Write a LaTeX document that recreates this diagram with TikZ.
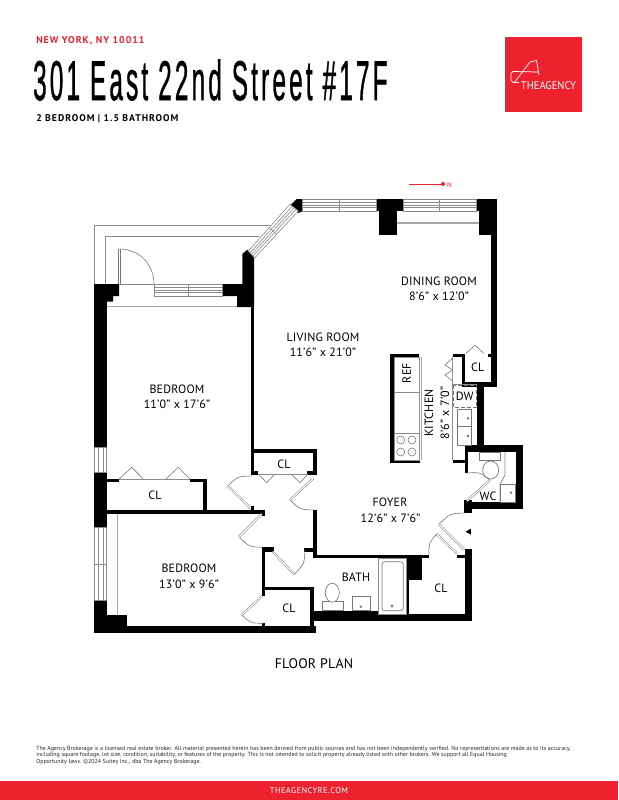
\documentclass[tikz,border=0pt]{standalone}
\usepackage{fontspec}
\setmainfont[LetterSpace=1.5]{PT Sans}
\newfontfamily\titlefont[LetterSpace=13,FakeBold=1.2]{Liberation Sans}
\newfontfamily\spaced[LetterSpace=5]{PT Sans}
\newfontfamily\spacedb[LetterSpace=10,BoldFont={PT Sans Bold}]{PT Sans}
\newfontfamily\spacedc[LetterSpace=10,BoldFont={PT Sans Bold}]{PT Sans}
\newfontfamily\plain{PT Sans}
\usetikzlibrary{calc}
\definecolor{agred}{HTML}{EE222E}
\definecolor{fix}{HTML}{777777}
\definecolor{winc}{HTML}{8A8A8A}
\tikzset{
  wall/.style={fill=black},
  fixture/.style={draw=fix,line width=0.5pt},
  wingrey/.style={draw=winc,line width=0.45pt,fill=white},
  leaf/.style={draw=fix,line width=0.35pt,double=white,double distance=0.9pt},
  swing/.style={draw=fix,line width=0.45pt},
  roomlabel/.style={font=\fontsize{9}{10}\selectfont,inner sep=0pt},
  smalllabel/.style={font=\fontsize{9}{10}\selectfont,inner sep=0pt},
  legal/.style={font=\plain\fontsize{4.45}{5}\selectfont,inner sep=0pt,anchor=west,text=black!85}
}
\newcommand{\hwin}[3]{%
  \draw[wingrey] (#1,\wya) rectangle (#2,\wyb);
  \foreach \t in {0.27,0.5,0.73} \draw[winc,line width=0.45pt] (#1,\wya+\t*\wyb-\t*\wya) -- (#2,\wya+\t*\wyb-\t*\wya);
  \draw[winc,line width=0.45pt] (#3,\wya) -- (#3,\wyb);}
\newcommand{\vwin}[3]{%
  \draw[wingrey] (94.3,#1) rectangle (106.7,#2);
  \foreach \xx in {98,103} \draw[winc,line width=0.45pt] (\xx,#1) -- (\xx,#2);
  \ifx#3\relax\else\draw[winc,line width=0.45pt] (94.3,#3) -- (106.7,#3);\fi}
\newcommand{\door}[3]{% tip, end of arc, hinge (leaf and arc end 45 degrees apart)
  \draw[leaf] (#3) -- (#1);
  \draw[swing] (#1) .. controls ($0.586*(#1)+0.586*(#2)-0.172*(#3)$) .. (#2);}
\begin{document}
\begin{tikzpicture}[x=0.75pt,y=-0.75pt]
\useasboundingbox (0,0) rectangle (618,800);
\fill[white] (0,0) rectangle (618,800);
% header
\node[anchor=west,inner sep=0pt,text=agred,font=\spacedb\bfseries\fontsize{7.4}{9}\selectfont] (city) at (36,41) {NEW YORK, NY 10011};
\node[anchor=west,inner sep=0pt,xscale=0.435,font=\titlefont\fontsize{42}{46}\selectfont] (title) at (33,80) {301 East 22nd Street \#17F};
\node[anchor=west,inner sep=0pt,font=\spacedc\fontsize{7.3}{9}\selectfont\bfseries] (sub) at (36,118.5) {2 BEDROOM | 1.5 BATHROOM};
\fill[agred] (505,37) rectangle (581.5,111.5);
\draw[white,line width=0.55pt,line join=round] (514,83) -- (530,62) -- (536.5,60.5) -- (539,75);
\draw[white,line width=0.55pt,line join=round] (538,72) -- (513,71.5) -- (511,73.5) -- (511,80) -- (513,82.5) -- (519,82.5);
\node[inner sep=0pt,text=white,font=\plain\fontsize{8.3}{10}\selectfont,xscale=0.95] (logotext) at (548.5,85.5) {THEAGENCY};
% north arrow
\coordinate (na) at (409,184);
\coordinate (nb) at (443,184);
\draw[agred,line width=0.7pt] (na) -- (nb);
\fill[agred] (nb) circle (2);
\node[inner sep=0pt,text=agred,font=\fontsize{5.2}{6}\selectfont] (north) at (449.5,184.6) {N};
% balcony
\draw[winc,line width=0.5pt] (94.3,284) -- (94.3,225.3) -- (270,225.3);
\draw[winc,line width=0.5pt] (105.3,284) -- (105.3,236.3) -- (259,236.3);
\draw[winc,line width=0.4pt] (119,284) -- (154,284);
% --- walls
\fill[wall] (94.3,284) rectangle (106.7,632.7);
\fill[wall] (94.3,284) -- (119,284) -- (119,296) -- (113,296) -- (113,301.7) -- (106.7,301.7) -- (106.7,310) -- (94.3,310) -- cycle;
\fill[wall] (222.7,284) -- (242.3,284) -- (242.3,254) -- (247.3,249.7) -- (254,258) -- (254,307) -- (237,307) -- (237,296) -- (222.7,296) -- cycle;
\fill[wall] (250.7,307) rectangle (254,474.5);
\fill[wall] (94.3,625.7) rectangle (315.7,632.7);
\fill[wall] (106,615) rectangle (126.7,626);
% top wall
\fill[wall] (290,205.7) -- (296.7,199) -- (302,199) -- (302,211.5) -- (298,213) -- cycle;
\fill[wall] (376,199) rectangle (403,211);
\fill[wall] (379,199) rectangle (397,235);
\fill[wall] (476,199) rectangle (497.3,211);
\fill[wall] (479,199) rectangle (497.3,235);
\fill[wall] (490.7,199) rectangle (497.3,386.7);
% right of kitchen, wc
\fill[wall] (461.7,381.7) rectangle (497.3,386.7);
\fill[wall] (461.7,354) rectangle (465,386);
\fill[wall] (452.7,354) rectangle (465,357);
\fill[wall] (488,354) rectangle (491,357);
\fill[wall] (477,384) rectangle (484,452);
\fill[wall] (465,445.3) rectangle (522.7,452);
\fill[wall] (516,445.3) rectangle (522.7,509);
\fill[wall] (464,502.3) rectangle (522.7,509);
\fill[wall] (464,500) rectangle (471.7,513.3);
\fill[wall] (465,451) rectangle (467.7,473);
\fill[wall] (452.7,460) rectangle (467.7,463.3);
% kitchen island wall
\fill[wall] (390,354) rectangle (419.3,357);
\fill[wall] (390,354) rectangle (394,463);
\fill[wall] (390,460) rectangle (420,463);
% interior left closets
\fill[wall] (106,479.3) rectangle (119.3,482.3);
\fill[wall] (190,479.3) rectangle (206.7,482.3);
\fill[wall] (203.3,479.3) rectangle (206.7,512);
\fill[wall] (106,510) rectangle (265,514);
\fill[wall] (260,510) rectangle (265,516);
\fill[wall] (250.7,449.3) rectangle (316.7,453.3);
\fill[wall] (312.7,449.3) rectangle (316.7,474.5);
\fill[wall] (250.7,471) rectangle (258.3,475);
\fill[wall] (306.7,471) rectangle (316.7,475);
\fill[wall] (250.7,505.5) rectangle (254,510);
\fill[wall] (313.3,510) rectangle (316.7,557.7);
\fill[wall] (304.3,548) rectangle (314,551.7);
\fill[wall] (262.3,547.3) rectangle (265.3,595.7);
\fill[wall] (262.3,547.3) rectangle (273.7,551.7);
\fill[wall] (262.3,586.7) rectangle (314,590);
\fill[wall] (310,586.7) rectangle (314,632.7);
\fill[wall] (262.3,623) rectangle (265,626);
% bath, foyer
\fill[wall] (313.3,555) rectangle (429,557.7);
\fill[wall] (406.7,555) rectangle (421.7,580);
\fill[wall] (406.7,555) rectangle (409,614);
\fill[wall] (313,610.7) rectangle (378.3,620.7);
\fill[wall] (378.3,614) rectangle (471.7,620.7);
\fill[wall] (465,549) rectangle (471.7,620.7);
\fill[wall] (456.7,555) rectangle (465,557.7);
\fill[black] (470.9,528.7) -- (470.9,534.7) -- (465.6,531.7) -- cycle;
% windows
\def\wya{284}\def\wyb{296}
\hwin{154}{222.7}{188.5}
\def\wya{199}\def\wyb{211}
\hwin{302}{376}{339}
\hwin{403}{476}{439}
\vwin{447.3}{472.7}{\relax}
\vwin{527.7}{600}{564}
% diagonal window
\coordinate (da) at (248.3,251);
\coordinate (db) at (255,257.7);
\coordinate (dc) at (298.3,211);
\coordinate (dd) at (290,204.3);
\draw[wingrey] (da) -- (db) -- (dc) -- (dd) -- cycle;
\foreach \t in {0.27,0.5,0.73} \draw[winc,line width=0.45pt] ($(da)!\t!(db)$) -- ($(dd)!\t!(dc)$);
\draw[winc,line width=0.45pt] ($(da)!0.5!(dd)$) -- ($(db)!0.5!(dc)$);
% grey sills
\draw[black!35,line width=1pt] (107,306.7) -- (237,306.7);
\draw[black!35,line width=1pt] (397,223) -- (479,223);
\draw[black!35,line width=0.8pt] (117.7,514) -- (117.7,615);
% balcony door
\draw[leaf] (119.5,284) -- (119.5,249);
\draw[swing] (119.5,249) .. controls (140,249) and (154,265) .. (154,284);
% kitchen left counter
\draw[black!45,line width=0.5pt] (394,357) rectangle (419.3,460);
\draw[black!35,line width=0.7pt] (421,357) -- (421,460);
\draw[black!45,line width=0.6pt] (394,392.3) -- (419.3,392.3);
\draw[black!45,line width=0.6pt] (394,433.3) -- (419.3,433.3);
\foreach \a/\b in {400.7/440,412/440,400.7/452,412/452} \draw[fix,line width=0.45pt] (\a,\b) circle (4);
% kitchen right counter
\draw[black!45,line width=0.5pt] (452.7,384) -- (477,384);
\draw[black!45,line width=0.5pt] (452.7,384) -- (452.7,460);
\draw[fix,line width=0.5pt,dashed,dash pattern=on 3pt off 1.5pt] (453.3,385) rectangle (476.7,407.7);
\draw[fixture] (457.7,409.3) rectangle (471.7,426.7);
\draw[fixture] (457.7,426.7) rectangle (471.7,445);
\draw[fixture] (468,418.3) circle (0.9);
\draw[fixture] (468,436) circle (0.9);
% CL bifolds
\draw[swing] (466,353.5) -- (475,345) -- (484,353.5);
\draw[swing] (452.7,358) -- (445,365) -- (452.7,370) -- (445,375) -- (452.7,381);
\draw[black!45,line width=0.5pt] (452.7,357) -- (452.7,384);
\draw[swing] (119.3,479) -- (131.7,467.3) -- (143.3,479);
\draw[swing] (166,479) -- (178.3,467.3) -- (190,479);
\draw[black!45,line width=1pt] (119.3,479.7) -- (190,479.7);
\draw[swing] (258.3,474) -- (266.7,482.7) -- (275,474);
\draw[swing] (291,474) -- (300,482.7) -- (307.7,474);
\draw[black!45,line width=0.8pt] (258.3,474.3) -- (307.7,474.3);
% WC
\draw[fixture] (479.3,452) rectangle (500.7,460.7);
\draw[fixture,fill=white] (490.7,470) ellipse (8 and 9);
\draw[black!45,line width=0.6pt] (505,452) -- (505,475) -- (500,484) -- (500,502);
\draw[fixture] (500,484) rectangle (515,502);
\draw[fixture] (511,492.7) circle (0.9);
% doors
\coordinate (d1h) at (250.7,508.3); \coordinate (d1t) at (227.7,486); \coordinate (d1e) at (251.7,476);
\door{d1t}{d1e}{d1h}
\coordinate (d2h) at (313.3,478.3); \coordinate (d2t) at (290,500); \coordinate (d2e) at (314,510);
\door{d2t}{d2e}{d2h}
\coordinate (d3h) at (261.7,514); \coordinate (d3t) at (239,536.7); \coordinate (d3e) at (262.7,547.3);
\door{d3t}{d3e}{d3h}
\coordinate (d4h) at (272.7,551.7); \coordinate (d4t) at (294.3,574.3); \coordinate (d4e) at (305,550);
\door{d4t}{d4e}{d4h}
\coordinate (d5h) at (262.3,596); \coordinate (d5t) at (241.7,615); \coordinate (d5e) at (263.3,623.3);
\door{d5t}{d5e}{d5h}
\coordinate (d6h) at (464,549.3); \coordinate (d6t) at (439,524.3); \coordinate (d6e) at (465,513);
\door{d6t}{d6e}{d6h}
\coordinate (d7h) at (456.7,553.3); \coordinate (d7t) at (436.7,534); \coordinate (d7e) at (429,555);
\door{d7t}{d7e}{d7h}
\coordinate (d8h) at (467,501); \coordinate (d8t) at (490,480); \coordinate (d8e) at (467,473);
\door{d8t}{d8e}{d8h}
% bath fixtures
\draw[black!45,line width=0.5pt,fill=white] (378.3,558.3) rectangle (406.7,614);
\draw[fixture,rounded corners=2pt] (382,561.7) rectangle (403.3,610.7);
\draw[fixture] (392,606) circle (1.2);
\draw[fixture] (322.3,601.7) rectangle (343.3,610.7);
\draw[fixture,fill=white] (332.3,592.7) ellipse (7 and 9.5);
\draw[fixture] (352,596.7) rectangle (370,610.7);
\draw[fixture] (360.7,606.7) circle (0.9);
% labels
\node[roomlabel] (bed1) at (177,389) {BEDROOM};
\node[roomlabel] (bed1d) at (177,404) {11'0" x 17'6"};
\node[roomlabel] (din) at (439,281) {DINING ROOM};
\node[roomlabel] (dind) at (439,296) {8'6" x 12'0"};
\node[roomlabel] (liv) at (323,337) {LIVING ROOM};
\node[roomlabel] (livd) at (323,352) {11'6" x 21'0"};
\node[roomlabel,rotate=90] (ref) at (406.5,373) {REF};
\node[roomlabel,rotate=90] (kit) at (429,413) {KITCHEN};
\node[roomlabel,rotate=90] (kitd) at (445,413) {8'6" x 7'0"};
\node[smalllabel] (dw) at (464.7,396) {DW};
\node[smalllabel] (cl1) at (477.7,367) {CL};
\node[smalllabel] (wc) at (488,496) {WC};
\node[roomlabel] (foy) at (390,502) {FOYER};
\node[roomlabel] (foyd) at (390.5,518) {12'6" x 7'6"};
\node[roomlabel] (bath) at (356,577) {BATH};
\node[smalllabel] (cl2) at (441,588) {CL};
\node[smalllabel] (cl3) at (289,608) {CL};
\node[roomlabel] (bed2) at (189,568) {BEDROOM};
\node[roomlabel] (bed2d) at (189,584) {13'0" x 9'6"};
\node[smalllabel] (cl4) at (155,495) {CL};
\node[smalllabel] (cl5) at (284,464) {CL};
\node[inner sep=0pt,font=\fontsize{10.4}{11}\selectfont] (fp) at (314,664) {FLOOR PLAN};
% legal
\node[legal] (l1) at (36,749.3) {The Agency Brokerage is a licensed real estate broker. All material presented herein has been derived from public sources and has not been independently verified. No representations are made as to its accuracy,};
\node[legal] (l2) at (36,755.5) {including square footage, lot size, condition, suitability, or features of the property. This is not intended to solicit property already listed with other brokers. We support all Equal Housing};
\node[legal] (l3) at (36,761.7) {Opportunity laws. ©2024 Suitey Inc., dba The Agency Brokerage.};
% footer
\fill[agred] (0,780.7) rectangle (618,800);
\node[inner sep=0pt,text=white,font=\spaced\fontsize{6.3}{8}\selectfont] (web) at (309,790.5) {THEAGENCYRE.COM};
\end{tikzpicture}
\end{document}
